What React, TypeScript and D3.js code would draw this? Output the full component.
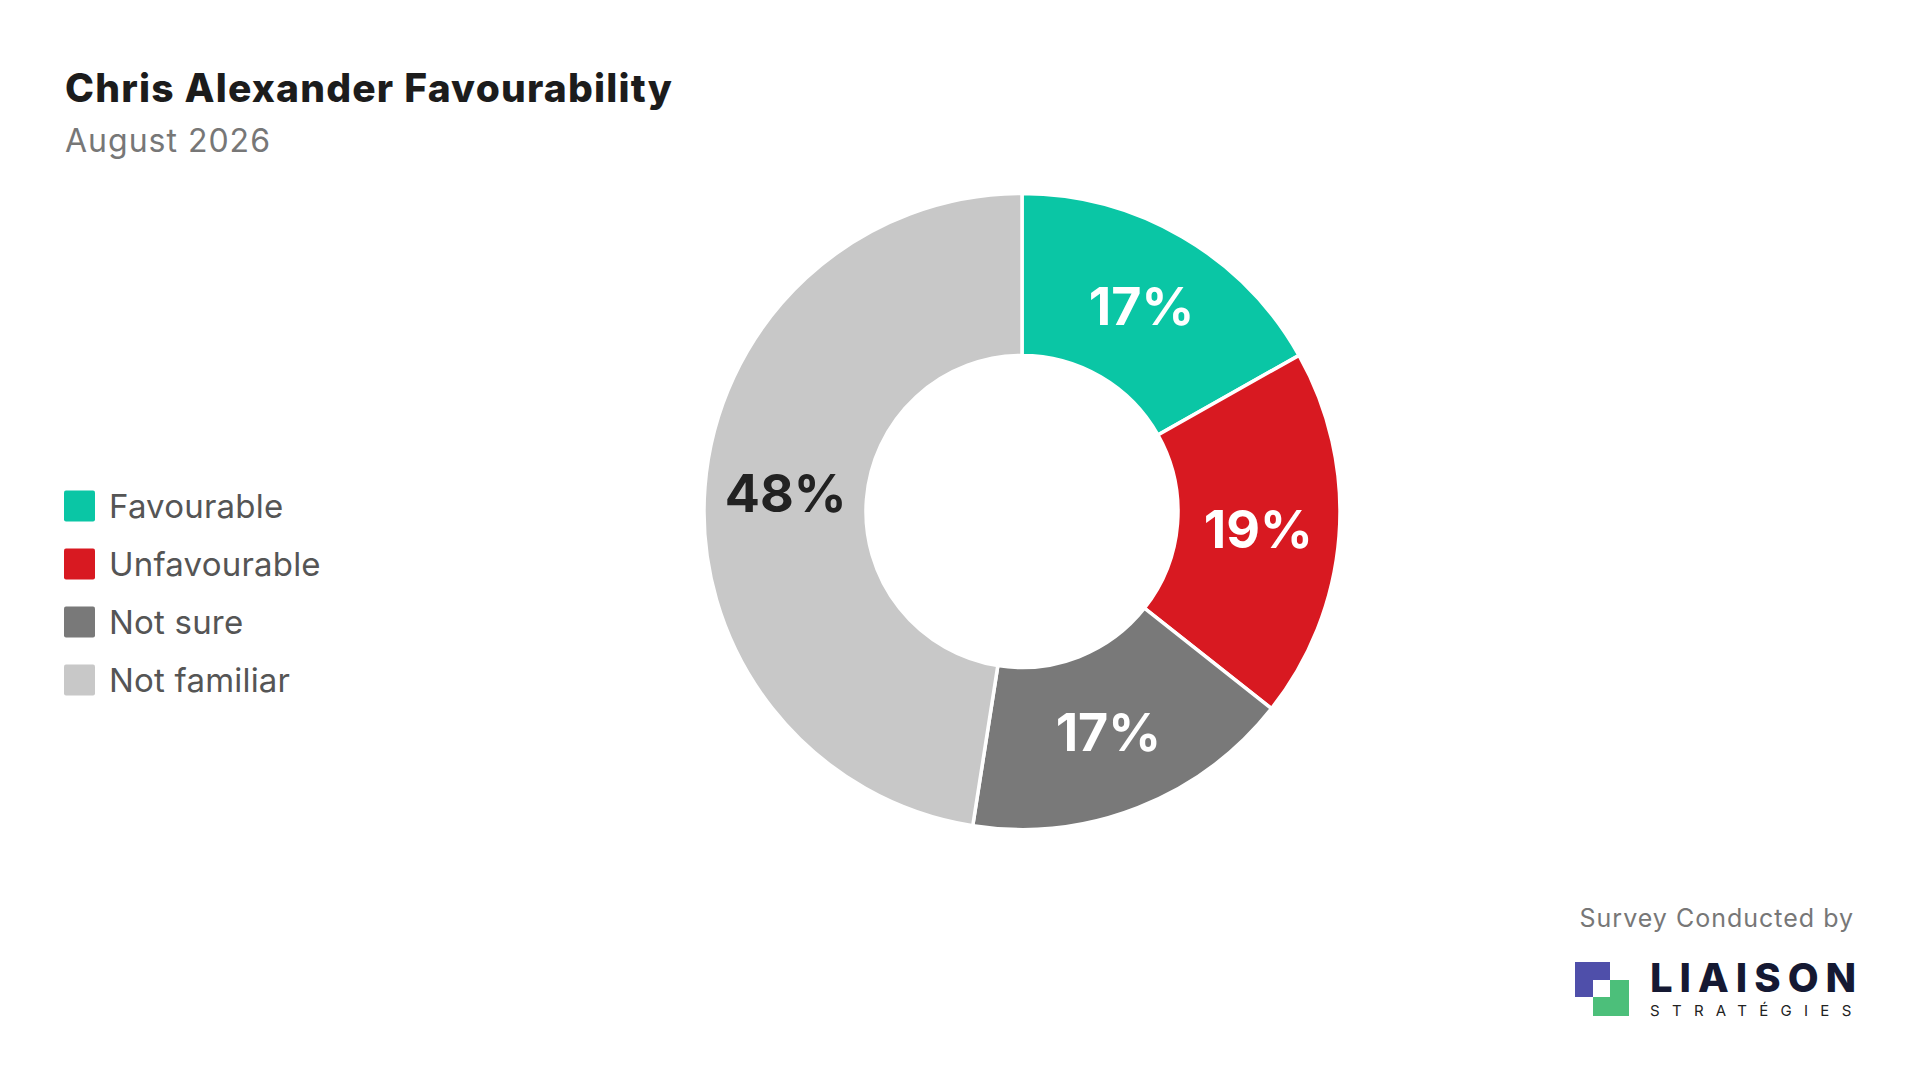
import React from "react";
import * as d3 from "d3";

const categories = ["Favourable", "Unfavourable", "Not sure", "Not familiar"];
const values = [17, 19, 17, 48];
const colors = ["#0AC6A5", "#D81921", "#797979", "#C8C8C8"];
const labelColors = ["#FFFFFF", "#FFFFFF", "#FFFFFF", "#222222"];

const W = 1920;
const H = 1080;

export default function App() {
  const cx = 1022;
  const cy = 511.5;
  const outerR = 318;
  const innerR = 156;
  const pie = d3
    .pie<number>()
    .sort(null)
    .value((d) => d);
  const arcs = pie(values);
  const arc = d3
    .arc<d3.PieArcDatum<number>>()
    .innerRadius(innerR)
    .outerRadius(outerR);
  const legendY = d3
    .scalePoint<string>()
    .domain(categories)
    .range([506, 680]);

  return (
    <svg
      width={W}
      height={H}
      style={{ position: "absolute", left: 0, top: 0, background: "#fff" }}
      fontFamily="Inter, 'Noto Sans', sans-serif"
    >
      <rect x={0} y={0} width={W} height={H} fill="#fff" />
      <text x={65} y={102} fontSize={39} fontWeight={800} fill="#1c1c1c" letterSpacing={1.2}>
        Chris Alexander Favourability
      </text>
      <text x={65} y={152} fontSize={32} fill="#777777" letterSpacing={1}>
        August 2026
      </text>

      <g transform={`translate(${cx},${cy})`}>
        {arcs.map((a, i) => (
          <path key={i} d={arc(a) || ""} fill={colors[i]} stroke="#fff" strokeWidth={3.5} />
        ))}
        {arcs.map((a, i) => {
          const [x, y] = arc.centroid(a);
          return (
            <text
              key={"l" + i}
              x={x}
              y={y}
              textAnchor="middle"
              dominantBaseline="central"
              fontSize={52}
              fontWeight={700}
              fill={labelColors[i]}
            >
              {values[i]}%
            </text>
          );
        })}
      </g>

      {categories.map((c, i) => {
        const y = legendY(c) as number;
        return (
          <g key={c}>
            <rect x={64} y={y - 15.5} width={31} height={31} rx={2} fill={colors[i]} />
            <text x={109} y={y} dominantBaseline="central" fontSize={33} fill="#555555" letterSpacing={0.2}>
              {c}
            </text>
          </g>
        );
      })}

      <text x={1854} y={927} textAnchor="end" fontSize={25} fill="#777777" letterSpacing={1}>
        Survey Conducted by
      </text>
      <g>
        <rect x={1575} y={962} width={35} height={35} fill="#4F4FAA" />
        <rect x={1593} y={980} width={36} height={36} fill="#4CBF7A" />
        <rect x={1593} y={980} width={17} height={17} fill="#fff" />
        <text x={1650} y={992} fontSize={40} fontWeight={800} fill="#151933" letterSpacing={7}>
          LIAISON
        </text>
        <text x={1650} y={1016} fontSize={15} fill="#222" letterSpacing={12.3}>
          STRATÉGIES
        </text>
      </g>
    </svg>
  );
}
